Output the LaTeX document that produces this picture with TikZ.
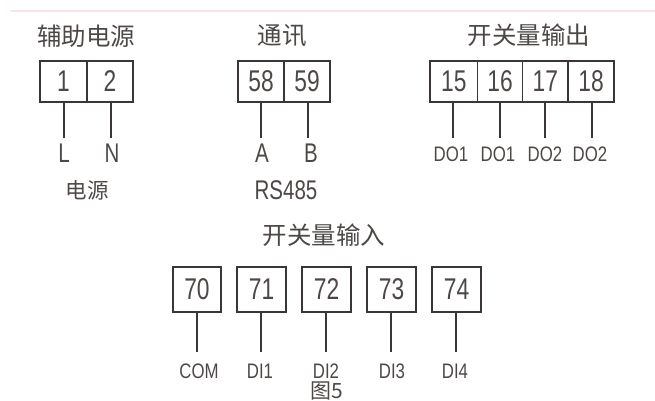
\documentclass[tikz,border=0pt]{standalone}
\usepackage{fontspec}
\setmainfont{Liberation Sans}
\newfontfamily\cnfont{Noto Sans CJK SC}
\newfontfamily\numfont[FakeStretch=0.76]{Liberation Sans}
\newfontfamily\lblfont[FakeStretch=0.8]{Liberation Sans}
\definecolor{ink}{HTML}{3B3634}
\definecolor{txt}{HTML}{4D4846}
\definecolor{rule}{HTML}{FBE3EE}
\tikzset{
  cell/.style={draw=ink,line width=1.7pt,inner sep=0pt,minimum height=#1,text=txt,font={\numfont\fontsize{30}{30}\selectfont}},
  cell/.default=41pt,
  wire/.style={draw=ink,line width=1.5pt},
  heading/.style={text=txt,inner sep=0pt,font={\cnfont\fontsize{24.5}{25}\selectfont}},
  sub/.style={text=txt,inner sep=0pt,font={\cnfont\fontsize{21.5}{22}\selectfont}},
  biglabel/.style={text=txt,inner sep=0pt,font={\numfont\fontsize{27}{27}\selectfont}},
  smalllabel/.style={text=txt,inner sep=0pt,font={\lblfont\fontsize{21}{21}\selectfont}},
}
\begin{document}
\begin{tikzpicture}[x=1pt,y=-1pt]
\useasboundingbox (0,0) rectangle (655,401);
\coordinate (ruleL) at (10,11);
\coordinate (ruleR) at (655,11);
\draw[rule,line width=1.4pt] (ruleL) -- (ruleR);
% headings
\node[heading] (hAux) at (86,36) {\mbox{辅助电源}};
\node[heading] (hCom) at (282,36) {\mbox{通讯}};
\node[heading] (hOut) at (529,35) {\mbox{开关量输出}};
\node[heading] (hIn) at (324,235) {\mbox{开关量输入}};
% top terminals
\node[cell,minimum width=47pt] (t1) at (63.5,81.5) {1};
\node[cell,minimum width=46pt] (t2) at (110,81.5) {2};
\node[cell,minimum width=46pt] (t58) at (261,81.5) {58};
\node[cell,minimum width=46pt] (t59) at (307,81.5) {59};
\node[cell,minimum width=47.5pt] (t15) at (453.8,81.5) {15};
\node[cell,minimum width=45pt] (t16) at (500,81.5) {16};
\node[cell,minimum width=45.5pt] (t17) at (545.3,81.5) {17};
\node[cell,minimum width=46pt] (t18) at (591,81.5) {18};
% bottom terminals
\node[cell=45pt,minimum width=48pt] (t70) at (197,289.5) {70};
\node[cell=45pt,minimum width=49pt] (t71) at (261.5,289.5) {71};
\node[cell=45pt,minimum width=49pt] (t72) at (326.5,289.5) {72};
\node[cell=45pt,minimum width=49pt] (t73) at (391.5,289.5) {73};
\node[cell=45pt,minimum width=49pt] (t74) at (456.5,289.5) {74};
% wire ends
\coordinate (e1) at (64,138);
\coordinate (e2) at (111,138);
\coordinate (e58) at (261,138);
\coordinate (e59) at (308,138);
\coordinate (e15) at (453,138);
\coordinate (e16) at (500,138);
\coordinate (e17) at (545,138);
\coordinate (e18) at (592,138);
\coordinate (e70) at (197,352);
\coordinate (e71) at (261,352);
\coordinate (e72) at (326,352);
\coordinate (e73) at (391,352);
\coordinate (e74) at (456,352);
\foreach \n in {1,2,58,59,15,16,17,18,70,71,72,73,74}
  \draw[wire] (t\n.south -| e\n) -- (e\n);
% labels
\node[biglabel] (lL) at (64,153) {L};
\node[biglabel] (lN) at (112,153) {N};
\node[biglabel] (lA) at (262,153) {A};
\node[biglabel] (lB) at (311,153) {B};
\node[sub] (lPow) at (87,190) {\mbox{电源}};
\node[biglabel] (lRS) at (286,190) {RS485};
\node[smalllabel] (lD1) at (451,154) {DO1};
\node[smalllabel] (lD2) at (498,154) {DO1};
\node[smalllabel] (lD3) at (545,154) {DO2};
\node[smalllabel] (lD4) at (590,154) {DO2};
\node[smalllabel] (lCom) at (199,371) {COM};
\node[smalllabel] (lI1) at (260,371) {DI1};
\node[smalllabel] (lI2) at (326,371) {DI2};
\node[smalllabel] (lI3) at (392,371) {DI3};
\node[smalllabel] (lI4) at (455,371) {DI4};
\node[text=txt,inner sep=0pt,font={\cnfont\fontsize{21}{21}\selectfont}] (lFig) at (327,391) {\mbox{图5}};
\end{tikzpicture}
\end{document}
